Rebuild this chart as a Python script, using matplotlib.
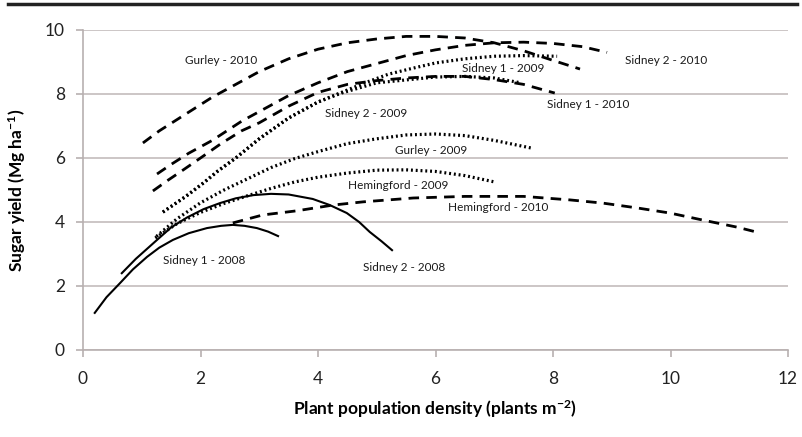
import matplotlib
matplotlib.use("Agg")
import matplotlib.pyplot as plt
from matplotlib.lines import Line2D

# ---- data ----
gurley_2010_x = [1.02, 1.3, 1.6, 1.9, 2.2, 2.6, 3.0, 3.5, 4.0, 4.5, 5.0, 5.5, 6.0, 6.5, 7.0, 7.5, 8.0, 8.46]
gurley_2010_y = [6.47, 6.85, 7.2, 7.55, 7.9, 8.3, 8.7, 9.1, 9.4, 9.6, 9.72, 9.8, 9.8, 9.75, 9.6, 9.35, 9.05, 8.78]

sidney2_2010_x = [1.26, 1.5, 1.8, 2.2, 2.7, 3.0, 3.5, 4.0, 4.5, 5.0, 5.5, 6.0, 6.5, 7.0, 7.5, 8.0, 8.5, 8.92]
sidney2_2010_y = [5.5, 5.8, 6.15, 6.55, 7.15, 7.45, 7.95, 8.35, 8.7, 8.95, 9.2, 9.38, 9.52, 9.6, 9.62, 9.58, 9.48, 9.3]

sidney1_2010_x = [1.19, 1.45, 1.7, 2.0, 2.35, 2.7, 3.0, 3.5, 4.0, 4.5, 5.0, 5.5, 6.0, 6.5, 7.0, 7.5, 8.03]
sidney1_2010_y = [4.97, 5.31, 5.62, 6.0, 6.45, 6.85, 7.1, 7.62, 8.05, 8.3, 8.42, 8.5, 8.55, 8.55, 8.45, 8.3, 8.03]

hemingford_2010_x = [2.55, 3.06, 3.64, 4.26, 4.77, 5.62, 6.5, 7.5, 8.29, 8.85, 9.43, 9.99, 10.55, 11.13, 11.52]
hemingford_2010_y = [3.97, 4.22, 4.35, 4.53, 4.63, 4.75, 4.8, 4.8, 4.69, 4.59, 4.44, 4.28, 4.06, 3.84, 3.66]

sidney1_2009_x = [1.36, 1.75, 2.05, 2.3, 2.6, 3.0, 3.5, 4.0, 4.4, 4.8, 5.2, 5.6, 6.0, 6.5, 7.0, 7.5, 8.07]
sidney1_2009_y = [4.31, 4.8, 5.22, 5.6, 6.0, 6.6, 7.25, 7.75, 8.05, 8.35, 8.62, 8.8, 8.97, 9.1, 9.18, 9.2, 9.18]

sidney2_2009_x = [1.36, 1.75, 2.05, 2.3, 2.6, 3.0, 3.5, 4.0, 4.4, 5.0, 5.5, 6.0, 6.5, 7.0, 7.45]
sidney2_2009_y = [4.31, 4.8, 5.22, 5.6, 6.0, 6.6, 7.25, 7.75, 8.03, 8.35, 8.44, 8.53, 8.55, 8.5, 8.35]

gurley_2009_x = [1.25, 1.6, 2.0, 2.4, 2.8, 3.2, 3.6, 4.0, 4.5, 5.0, 5.5, 6.0, 6.5, 7.0, 7.66]
gurley_2009_y = [3.55, 4.1, 4.6, 5.0, 5.35, 5.7, 5.98, 6.2, 6.45, 6.6, 6.72, 6.75, 6.7, 6.55, 6.3]

hemingford_2009_x = [1.23, 1.6, 2.0, 2.4, 2.8, 3.2, 3.6, 4.0, 4.5, 5.0, 5.5, 6.0, 6.5, 7.01]
hemingford_2009_y = [3.5, 3.95, 4.3, 4.58, 4.82, 5.05, 5.25, 5.4, 5.53, 5.62, 5.63, 5.58, 5.45, 5.25]

sidney2_2008_x = [0.66, 0.9, 1.26, 1.5, 1.77, 2.05, 2.33, 2.6, 2.9, 3.2, 3.5, 3.91, 4.2, 4.49, 4.7, 4.88, 5.08, 5.26]
sidney2_2008_y = [2.4, 2.85, 3.44, 3.83, 4.14, 4.4, 4.59, 4.74, 4.84, 4.88, 4.86, 4.72, 4.53, 4.28, 4.0, 3.69, 3.4, 3.12]

sidney1_2008_x = [0.2, 0.4, 0.63, 0.85, 1.09, 1.3, 1.53, 1.8, 2.11, 2.35, 2.55, 2.75, 2.96, 3.15, 3.32]
sidney1_2008_y = [1.16, 1.65, 2.09, 2.52, 2.91, 3.2, 3.44, 3.65, 3.81, 3.88, 3.91, 3.88, 3.81, 3.7, 3.56]

label_texts = ["Gurley - 2010", "Sidney 2 - 2010", "Sidney 1 - 2009", "Sidney 1 - 2010",
               "Sidney 2 - 2009", "Gurley - 2009", "Hemingford - 2009", "Hemingford - 2010",
               "Sidney 1 - 2008", "Sidney 2 - 2008"]
label_x = [1.74, 9.22, 6.45, 7.9, 4.12, 5.31, 4.51, 6.21, 1.36, 4.77]
label_y = [9.06, 9.06, 8.8, 7.66, 7.4, 6.25, 5.13, 4.44, 2.81, 2.59]

x_ticks = [0, 2, 4, 6, 8, 10, 12]
y_ticks = [0, 2, 4, 6, 8, 10]

# ---- figure ----
plt.rcParams['font.family'] = ['Lato', 'DejaVu Sans']
plt.rcParams['mathtext.default'] = 'regular'
fig = plt.figure(figsize=(8.02, 4.37), dpi=100)
ax = fig.add_axes([83/802, 1-350/437, (788-83)/802, 320/437])

dash = dict(color='black', lw=2.0, linestyle=(0, (3.8, 2.6)), dash_capstyle='butt')
dot = dict(color='black', lw=2.3, linestyle=(0, (0.6, 0.9)), dash_capstyle='butt')
solid = dict(color='black', lw=1.5, linestyle='-', solid_joinstyle='round')

ax.plot(gurley_2010_x, gurley_2010_y, **dash)
ax.plot(sidney2_2010_x, sidney2_2010_y, **dash)
ax.plot(sidney1_2010_x, sidney1_2010_y, **dash)
ax.plot(hemingford_2010_x, hemingford_2010_y, **dash)
ax.plot(sidney1_2009_x, sidney1_2009_y, **dot)
ax.plot(sidney2_2009_x, sidney2_2009_y, **dot)
ax.plot(gurley_2009_x, gurley_2009_y, **dot)
ax.plot(hemingford_2009_x, hemingford_2009_y, **dot)
ax.plot(sidney2_2008_x, sidney2_2008_y, **solid)
ax.plot(sidney1_2008_x, sidney1_2008_y, **solid)

for t, lx, ly in zip(label_texts, label_x, label_y):
    ax.text(lx, ly, t, fontsize=8.5, color='#1a1a1a', ha='left', va='center')

ax.set_xlim(0, 12)
ax.set_ylim(0, 10)
ax.set_xticks(x_ticks)
ax.set_yticks(y_ticks)
ax.set_xticklabels([str(v) for v in x_ticks], fontsize=12.5, color='#222222')
ax.set_yticklabels([str(v) for v in y_ticks], fontsize=12.5, color='#222222')
ax.yaxis.grid(True, color='#c4bcbc', lw=1.2)
ax.set_axisbelow(True)
for s in ['top', 'right']:
    ax.spines[s].set_visible(False)
for s in ['left', 'bottom']:
    ax.spines[s].set_color('#b8b0b0')
    ax.spines[s].set_linewidth(1.2)
ax.tick_params(axis='both', direction='out', length=5, width=1.2, color='#b8b0b0')
ax.tick_params(axis='x', pad=10)
ax.tick_params(axis='y', pad=8)

ax.set_xlabel('Plant population density (plants m$^{-2}$)', fontsize=12.5, fontweight='bold', labelpad=8)
ax.set_ylabel('Sugar yield (Mg ha$^{-1}$)', fontsize=12.5, fontweight='bold', labelpad=12)

fig.add_artist(Line2D([8/802, 797/802], [1-4/437, 1-4/437], color='#222222', lw=2.5, transform=fig.transFigure))

fig.savefig('out.png', dpi=100)
